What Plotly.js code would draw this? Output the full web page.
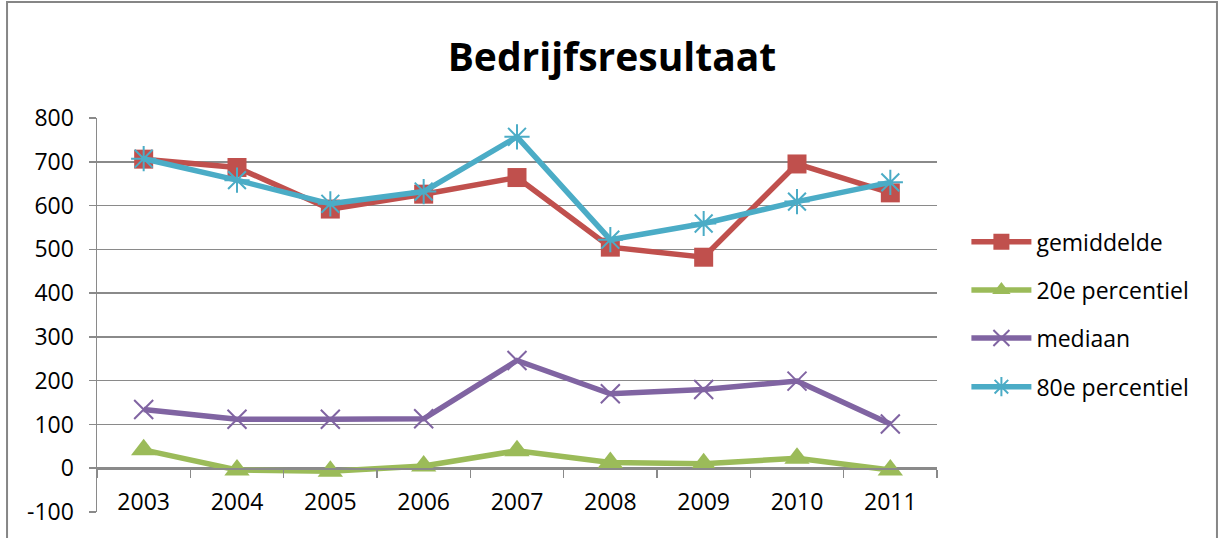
<!DOCTYPE html>
<html>
<head>
<meta charset="utf-8">
<script src="https://cdn.plot.ly/plotly-3.0.1.min.js"></script>
<style>body{margin:0;padding:0;background:#fff;} #chart{width:1220px;height:538px;}</style>
</head>
<body>
<div id="chart"></div>
<script>
const years = ["2003","2004","2005","2006","2007","2008","2009","2010","2011"];
const gemiddelde = [706, 687, 592, 626, 664, 505, 482, 695, 629];
const percentiel20 = [42, -4, -7, 5, 40, 13, 10, 23, -4];
const mediaan = [134, 112, 112, 113, 246, 170, 180, 199, 101];
const percentiel80 = [707, 658, 604, 632, 757, 522, 559, 609, 653];
const seriesNames = ["gemiddelde", "20e percentiel", "mediaan", "80e percentiel"];
const yTicks = [-100, 0, 100, 200, 300, 400, 500, 600, 700, 800];
const yTickLabels = ["-100", "0", "100", "200", "300", "400", "500", "600", "700", "800"];

const FONT = "Open Sans, Liberation Sans, sans-serif";
const GRID = "#8a8a8a";

const traces = [
  {x: years, y: gemiddelde, name: seriesNames[0], type: "scatter", mode: "lines+markers",
   line: {color: "#C0504D", width: 5.5}, marker: {symbol: "square", size: 19, color: "#C0504D"}, legend: "legend"},
  {x: years, y: percentiel20, name: seriesNames[1], type: "scatter", mode: "lines+markers",
   line: {color: "#9BBB59", width: 5.5}, marker: {symbol: "triangle-up", size: 22, color: "#9BBB59"}, legend: "legend2"},
  {x: years, y: mediaan, name: seriesNames[2], type: "scatter", mode: "lines+markers",
   line: {color: "#8064A2", width: 5.5}, marker: {symbol: "x-thin-open", size: 19, color: "#8064A2", line: {color: "#8064A2", width: 2}}, legend: "legend3"},
  {x: years, y: percentiel80, name: seriesNames[3], type: "scatter", mode: "lines+markers",
   line: {color: "#4BACC6", width: 5.5}, marker: {symbol: "asterisk-open", size: 21, color: "#4BACC6", line: {color: "#4BACC6", width: 2}}, legend: "legend4"}
];

function leg(y) {
  return {x: 1.035, xanchor: "left", y: y, yanchor: "middle", font: {family: FONT, size: 23, color: "#000"},
          bgcolor: "rgba(0,0,0,0)", borderwidth: 0, itemwidth: 60};
}

const layout = {
  width: 1220, height: 538,
  margin: {l: 97, r: 283, t: 118, b: 26, autoexpand: false},
  paper_bgcolor: "#fff", plot_bgcolor: "#fff",
  showlegend: true,
  title: {text: "<b>Bedrijfsresultaat</b>", font: {family: FONT, size: 39, color: "#000"},
          x: 0.5016, xanchor: "center", y: 0.894, yanchor: "middle", xref: "container", yref: "container", automargin: false},
  xaxis: {type: "category", range: [-0.5, 8.5], anchor: "free", position: 1/9, showline: true, linecolor: GRID, linewidth: 1.5,
          showgrid: false, zeroline: false, ticks: "outside", tickson: "boundaries", ticklen: 8, tickcolor: GRID, tickwidth: 1.5,
          ticklabelstandoff: 13, automargin: false,
          tickfont: {family: FONT, size: 23, color: "#000"}, fixedrange: true},
  yaxis: {range: [-100, 800], tickvals: yTicks, ticktext: yTickLabels, showline: true, linecolor: GRID, linewidth: 1.5,
          showgrid: true, gridcolor: GRID, gridwidth: 1.5, zeroline: false, automargin: false,
          ticks: "outside", ticklen: 7, tickcolor: GRID, tickwidth: 1.5, ticklabelstandoff: 10,
          tickfont: {family: FONT, size: 23, color: "#000"}},
  legend: leg(0.686), legend2: leg(0.5635), legend3: leg(0.4416), legend4: leg(0.318),
  shapes: [
    {type: "rect", xref: "paper", yref: "paper", x0: -0.1071, x1: 1.3333, y0: -0.09, y1: 1.2944,
     line: {color: "#868686", width: 2}, fillcolor: "rgba(0,0,0,0)", layer: "below"}
  ]
};

Plotly.newPlot("chart", traces, layout, {staticPlot: true, displayModeBar: false});
</script>
</body>
</html>
